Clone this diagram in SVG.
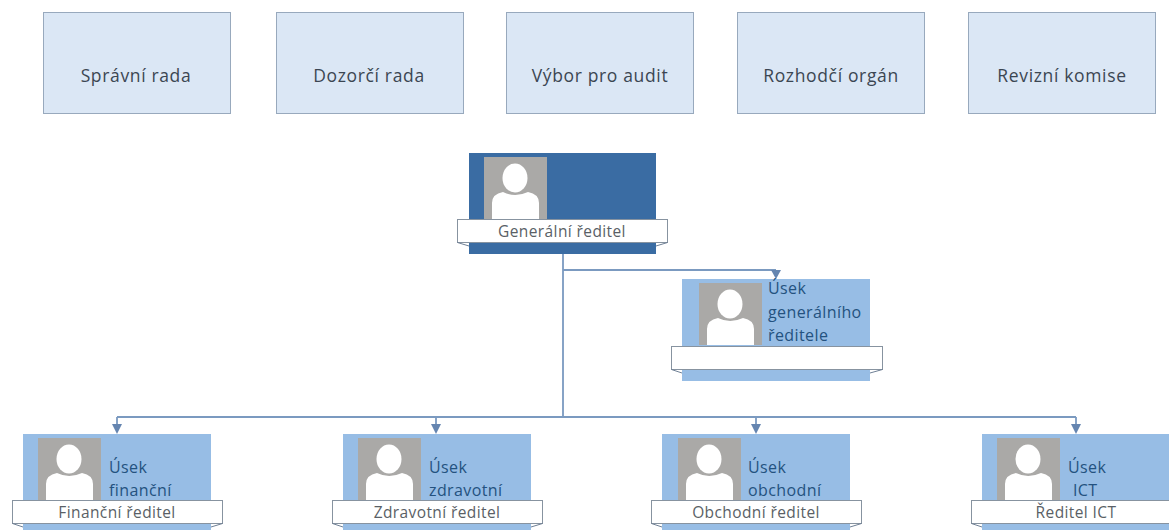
<svg xmlns="http://www.w3.org/2000/svg" width="1169" height="530" viewBox="0 0 1169 530">
<style>
text{font-family:"Open Sans","Noto Sans","Liberation Sans",sans-serif}
.top{fill:#dbe7f5;stroke:#98a9bd;stroke-width:1}
.tt{font-size:17.5px;letter-spacing:.65px;fill:#3b4652;text-anchor:middle}
.dark{fill:#3a6ca3}
.light{fill:#97bde5}
.photo{fill:#aaa9a7}
.head{fill:#fff}
.bar{fill:#fff;stroke:#8793a0;stroke-width:1}
.foot{stroke-width:1;stroke:#6f8095;fill:none}
.bt{font-size:15.500px;letter-spacing:.4px;fill:#5a5f66;text-anchor:middle}
.ut{font-size:16px;letter-spacing:.4px;fill:#24527f}
.conn{fill:none;stroke:#7b9ac0;stroke-width:1.8}
.arrow{fill:#6585b0}
</style>
<defs>
<g id="person">
<rect class="photo" x="0" y="0" width="63" height="62"/>
<ellipse class="head" cx="31" cy="21" rx="12.500" ry="14.500"/>
<path class="head" d="M8 62V46Q8 37 19 35Q31 41 44 35Q55 37 55 46V62Z"/>
</g>
</defs>
<g id="connectors">
<path class="conn" d="M563 254V417M563 270H776M117 417H1076M117 417V426M436 417V426M756 417V426M1076 417V426"/>
<polygon class="arrow" points="771,270 781,270 776,279"/>
<polygon class="arrow" points="112,424 122,424 117,434"/>
<polygon class="arrow" points="431,424 441,424 436,434"/>
<polygon class="arrow" points="751,424 761,424 756,434"/>
<polygon class="arrow" points="1071,424 1081,424 1076,434"/>
</g>
<g id="n-spravni-rada"><rect class="top" x="43.500" y="12.500" width="187" height="101"/><text class="tt" x="136" y="82">Správní rada</text></g>
<g id="n-dozorci-rada"><rect class="top" x="276.500" y="12.500" width="187" height="101"/><text class="tt" x="369" y="82">Dozorčí rada</text></g>
<g id="n-vybor"><rect class="top" x="506.500" y="12.500" width="187" height="101"/><text class="tt" x="600" y="82">Výbor pro audit</text></g>
<g id="n-rozhodci"><rect class="top" x="737.500" y="12.500" width="187" height="101"/><text class="tt" x="831" y="82">Rozhodčí orgán</text></g>
<g id="n-revizni"><rect class="top" x="968.500" y="12.500" width="187" height="101"/><text class="tt" x="1062" y="82">Revizní komise</text></g>
<g id="n-generalni">
<rect class="dark" x="469" y="153" width="187" height="101"/>
<use href="#person" x="484" y="157"/>
<rect class="bar" x="457.500" y="219.500" width="210" height="23"/>
<path class="foot" d="M457.500 242.500L469 246M667.500 242.500L656 246"/>
<text class="bt" x="562" y="237">Generální ředitel</text>
</g>
<g id="n-usek-gr">
<rect class="light" x="682" y="279" width="188" height="102"/>
<use href="#person" x="699" y="283"/>
<text class="ut" x="768" y="294">Úsek</text>
<text class="ut" x="768" y="318">generálního</text>
<text class="ut" x="768" y="341">ředitele</text>
<rect class="bar" x="671.500" y="346.500" width="211" height="23"/>
<path class="foot" d="M671.500 369.500L682 373M882.500 369.500L870 373"/>
</g>
<g id="n-financni">
<rect class="light" x="23" y="434" width="188" height="96"/>
<use href="#person" x="38" y="438"/>
<text class="ut" x="109" y="473">Úsek</text>
<text class="ut" x="109" y="496">finanční</text>
<rect class="bar" x="12.500" y="500.500" width="210" height="23"/>
<path class="foot" d="M12.500 523.500L23 527M222.500 523.500L211 527"/>
<text class="bt" x="117" y="518">Finanční ředitel</text>
</g>
<g id="n-zdravotni">
<rect class="light" x="343" y="434" width="188" height="96"/>
<use href="#person" x="358" y="438"/>
<text class="ut" x="429" y="473">Úsek</text>
<text class="ut" x="429" y="496">zdravotní</text>
<rect class="bar" x="332.500" y="500.500" width="210" height="23"/>
<path class="foot" d="M332.500 523.500L343 527M542.500 523.500L531 527"/>
<text class="bt" x="437" y="518">Zdravotní ředitel</text>
</g>
<g id="n-obchodni">
<rect class="light" x="662" y="434" width="188" height="96"/>
<use href="#person" x="678" y="438"/>
<text class="ut" x="748" y="473">Úsek</text>
<text class="ut" x="748" y="496">obchodní</text>
<rect class="bar" x="651.500" y="500.500" width="210" height="23"/>
<path class="foot" d="M651.500 523.500L662 527M861.500 523.500L850 527"/>
<text class="bt" x="756" y="518">Obchodní ředitel</text>
</g>
<g id="n-ict">
<rect class="light" x="982" y="434" width="187" height="96"/>
<use href="#person" x="997" y="438"/>
<text class="ut" x="1068" y="473">Úsek</text>
<text class="ut" x="1073" y="496">ICT</text>
<rect class="bar" x="971.500" y="500.500" width="210" height="23"/>
<path class="foot" d="M971.500 523.500L982 527"/>
<text class="bt" x="1076" y="518">Ředitel ICT</text>
</g>
</svg>
